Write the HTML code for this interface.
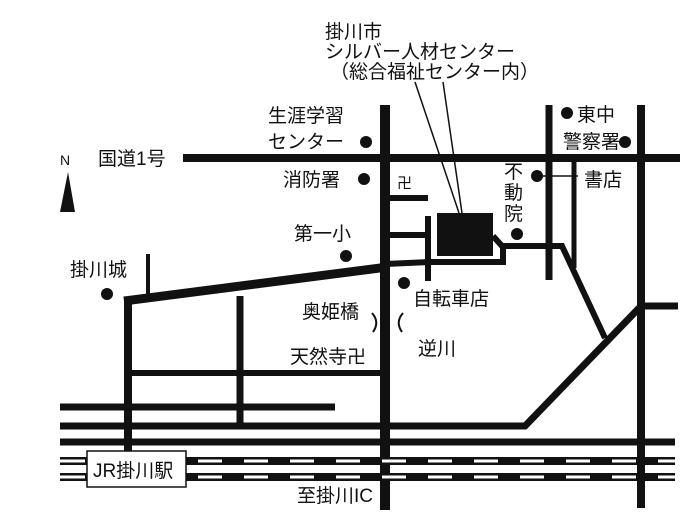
<!DOCTYPE html>
<html><head><meta charset="utf-8"><style>
html,body{margin:0;padding:0;background:#fff;}
svg{display:block;}
text{font-family:"Liberation Sans","Noto Sans CJK JP",sans-serif;font-size:19px;fill:#111;}
</style></head><body>
<svg width="700" height="525" viewBox="0 0 700 525" xmlns="http://www.w3.org/2000/svg">
<rect width="700" height="525" fill="#fff"/>
<g stroke="#111" fill="none" stroke-linecap="butt">
<!-- main vertical -->
<line x1="385" y1="105" x2="385" y2="510" stroke-width="10"/>
<!-- route 1 -->
<line x1="183" y1="158" x2="680" y2="158" stroke-width="8"/>
<!-- right verticals -->
<line x1="641" y1="105" x2="641" y2="508" stroke-width="8"/>
<line x1="549" y1="105" x2="549" y2="280" stroke-width="7"/>
<line x1="574" y1="160" x2="574" y2="268" stroke-width="5"/>
<line x1="641" y1="306" x2="678" y2="306" stroke-width="7"/>
<!-- building road -->
<polyline points="493,236 502,246 562,246 605,338" stroke-width="6"/>
<polyline points="430,262 503,262 503,246" stroke-width="6"/>
<line x1="428" y1="216" x2="428" y2="281" stroke-width="6"/>
<line x1="390" y1="198" x2="428" y2="198" stroke-width="6"/>
<line x1="390" y1="235" x2="428" y2="235" stroke-width="6"/>
<line x1="385" y1="264" x2="430" y2="262" stroke-width="6"/>
<!-- diagonal NE -->
<polyline points="60,426 525,426 641,306" stroke-width="7"/>
<!-- main diagonal west -->
<line x1="124" y1="301" x2="388" y2="267" stroke-width="9"/>
<line x1="128" y1="300" x2="128" y2="452" stroke-width="8"/>
<line x1="148" y1="254" x2="148" y2="300" stroke-width="4"/>
<line x1="240" y1="296" x2="240" y2="426" stroke-width="7"/>
<line x1="128" y1="373" x2="385" y2="373" stroke-width="6"/>
<!-- bottom lines -->
<line x1="60" y1="407" x2="335" y2="407" stroke-width="7"/>
<line x1="60" y1="442" x2="675" y2="442" stroke-width="7"/>
<!-- rails -->
<line x1="60" y1="461" x2="675" y2="461" stroke-width="8"/>
<line x1="60" y1="477" x2="675" y2="477" stroke-width="8"/>
<line x1="198" y1="461" x2="675" y2="461" stroke="#fff" stroke-width="3" stroke-dasharray="24,22"/>
<line x1="198" y1="477" x2="675" y2="477" stroke="#fff" stroke-width="3" stroke-dasharray="24,22"/>
<line x1="60" y1="461" x2="85" y2="461" stroke="#fff" stroke-width="3"/>
<line x1="60" y1="477" x2="85" y2="477" stroke="#fff" stroke-width="3"/>
<!-- leader lines -->
<line x1="415" y1="82" x2="459" y2="213" stroke-width="1.5"/>
<line x1="443" y1="82" x2="462" y2="213" stroke-width="1.5"/>
<line x1="540" y1="176" x2="578" y2="176" stroke-width="1.5"/>
<!-- river brackets -->
<path d="M372,313 Q380,322 373,332" stroke-width="2"/>
<path d="M403,313 Q395,322 402,332" stroke-width="2"/>
</g>
<!-- station box -->
<rect x="87" y="451" width="99" height="36" fill="#fff" stroke="#111" stroke-width="1.5"/>
<text x="93" y="477">JR掛川駅</text>
<!-- building -->
<rect x="437" y="213" width="56" height="43" fill="#111"/>
<!-- dots -->
<g fill="#111">
<circle cx="366" cy="142" r="6"/>
<circle cx="364" cy="179" r="6"/>
<circle cx="346" cy="256" r="6"/>
<circle cx="107" cy="294" r="6"/>
<circle cx="404" cy="283" r="6"/>
<circle cx="517" cy="234" r="6"/>
<circle cx="537" cy="176" r="6"/>
<circle cx="567" cy="113" r="6"/>
<circle cx="625" cy="142" r="6"/>
<polygon points="60,212 68,172 75,212"/>
</g>
<text x="60" y="165" style="font-size:14px">N</text>
<text x="325" y="38">掛川市</text>
<text x="325" y="58">シルバー人材センター</text>
<text x="330" y="78">（総合福祉センター内）</text>
<text x="268" y="122">生涯学習</text>
<text x="268" y="148">センター</text>
<text x="98" y="165">国道1号</text>
<text x="283" y="186">消防署</text>
<text x="397" y="188" style="font-size:15px">卍</text>
<text x="294" y="240">第一小</text>
<text x="70" y="276">掛川城</text>
<text x="302" y="318">奥姫橋</text>
<text x="413" y="305">自転車店</text>
<text x="418" y="355">逆川</text>
<text x="290" y="363">天然寺卍</text>
<text x="297" y="502">至掛川IC</text>
<text x="577" y="121">東中</text>
<text x="563" y="148">警察署</text>
<text x="584" y="186">書店</text>
<text x="504" y="178">不</text>
<text x="504" y="199">動</text>
<text x="504" y="220">院</text>
</svg>
</body></html>
